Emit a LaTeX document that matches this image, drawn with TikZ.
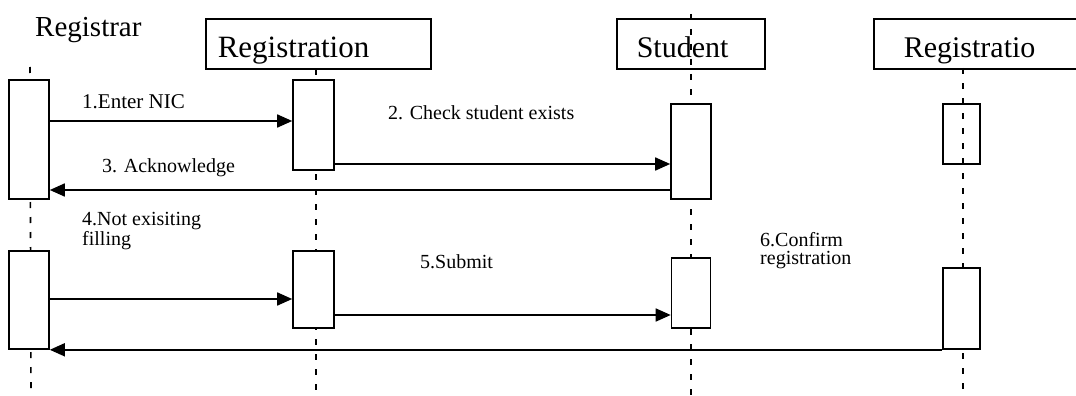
\documentclass[tikz,border=0pt]{standalone}
\usepackage{fontspec}
\setmainfont{Liberation Serif}
\usetikzlibrary{arrows.meta}

\begin{document}
\begin{tikzpicture}[x=1pt,y=-1pt,>={Triangle[length=15pt,width=13pt]},
  head/.style={draw,line width=1.6pt,anchor=north west,inner ysep=0pt,align=left,
    text height=39pt,text depth=11.5pt,font=\fontsize{30}{36}\selectfont},
  act/.style={draw,line width=1.6pt,fill=white,inner sep=0pt},
  msg/.style={anchor=base west,inner sep=0pt,align=left,font=\fontsize{20}{18}\selectfont},
  call/.style={->,line width=1.7pt},
  life/.style={line width=1.6pt,dash pattern=on 6pt off 9pt}]

        \useasboundingbox (0,0) rectangle (1076,396);

        \node[anchor=base west,inner sep=0pt,font=\fontsize{29}{34}\selectfont] (rh) at (35,37) {Registrar};
        \node[head,inner xsep=12pt,text width=201pt,font=\fontsize{31}{36}\selectfont] (gh) at (205,18) {Registration};
        \node[head,inner xsep=20pt,text width=108pt] (sh) at (616,18) {Student};
        \node[head,inner xsep=30pt,text width=160pt] (xh) at (873,18) {Registratio};

        \draw[life] (30,67)         -- (31,396);
        \draw[life] (316,69)        -- (316,396);
        \draw[life] (691,14)        -- (691,396);
        \draw[life] (963,68)        -- (963,396);

        \node[act,minimum width=40pt,minimum height=119pt] (ra1) at (29,139.5) {};
        \node[act,minimum width=41pt,minimum height=90pt]  (ga1) at (313.5,125) {};
        \node[act,minimum width=40pt,minimum height=95pt]  (sa1) at (691,151.5) {};
        \node[act,fill=none,minimum width=37pt,minimum height=60pt] (xa1) at (961.5,134) {};
        \node[act,minimum width=40pt,minimum height=98pt]  (ra2) at (29,300) {};
        \node[act,minimum width=41pt,minimum height=77pt]  (ga2) at (313.5,289.5) {};
        \node[act,minimum width=39pt,minimum height=70pt]  (sa2) at (691,293) {};
        \node[act,minimum width=37pt,minimum height=81pt]  (xa2) at (961.5,308.5) {};

        \draw[call] (ra1.east |- 0,121) -- (ga1.west |- 0,121);
        \draw[call] (ga1.east |- 0,164) -- (sa1.west |- 0,164);
        \draw[call] (sa1.west |- 0,190) -- (ra1.east |- 0,190);
        \draw[call] (ra2.east |- 0,299) -- (ga2.west |- 0,299);
        \draw[call] (ga2.east |- 0,315) -- (sa2.west |- 0,315);
        \draw[call] (xa2.south west)    -- (ra2.south east);

        \node[msg,font=\fontsize{21}{18}\selectfont] (m1) at (82,108) {1.Enter NIC};
        \node[msg] (m2) at (388,119) {2. Check student exists};
        \node[msg] (m3) at (102,172) {3. Acknowledge};
        \node[msg] (m4) at (82,245)  {4.Not exisiting\\filling};
        \node[msg] (m5) at (420,268) {5.Submit};
        \node[msg] (m6) at (760,264) {6.Confirm\\registration};

    \end{tikzpicture}
\end{document}
